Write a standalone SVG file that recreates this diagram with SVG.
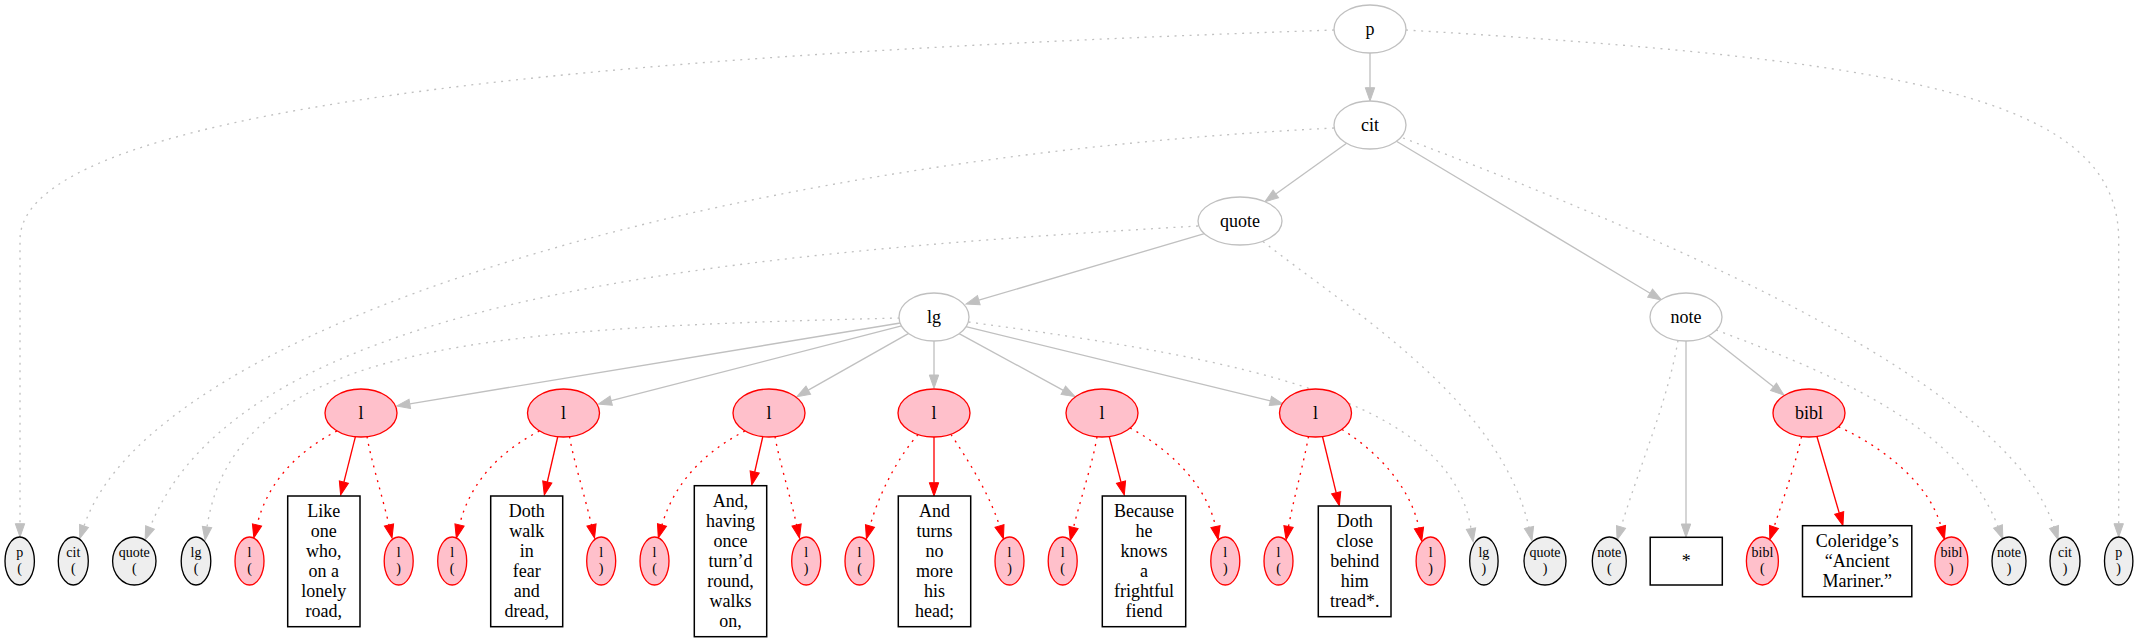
<svg xmlns="http://www.w3.org/2000/svg" width="2139" height="643" viewBox="0 0 2139 643">
<style>
.e{fill:none;stroke:#c0c0c0;stroke-width:1.33}
.r{fill:none;stroke:#ff0000;stroke-width:1.33}
.d{stroke-dasharray:2 5.5}
.t{font-family:"Liberation Serif","Times New Roman",serif;font-size:18px;text-anchor:middle;fill:#000}
.s{font-size:14px}
.top{fill:#ffffff;stroke:#c0c0c0;stroke-width:1.33}
.pk{fill:#ffc0cb;stroke:#ff0000;stroke-width:1.33}
.gr{fill:#eeeeee;stroke:#000000;stroke-width:1.33}
.bx{fill:#ffffff;stroke:#000000;stroke-width:1.5}
</style>
<defs>
<marker id="ag" markerUnits="userSpaceOnUse" markerWidth="14" markerHeight="10" refX="0" refY="5" orient="auto" viewBox="0 0 14 10" overflow="visible"><path d="M0,0.3 L13.3,5 L0,9.7 z" fill="#c0c0c0" stroke="#c0c0c0" stroke-width="1"/></marker>
<marker id="ar" markerUnits="userSpaceOnUse" markerWidth="14" markerHeight="10" refX="0" refY="5" orient="auto" viewBox="0 0 14 10" overflow="visible"><path d="M0,0.3 L13.3,5 L0,9.7 z" fill="#ff0000" stroke="#ff0000" stroke-width="1"/></marker>
</defs>
<rect width="2139" height="643" fill="#ffffff"/>
<g id="edges">
<!-- gray solid -->
<path class="e" marker-end="url(#ag)" d="M1370,53 L1370,87.7"/>
<path class="e" marker-end="url(#ag)" d="M1346.6,143.3 L1275.8,194"/>
<path class="e" marker-end="url(#ag)" d="M1396.4,141.2 L1650.1,293.2"/>
<path class="e" marker-end="url(#ag)" d="M1204.4,233.6 L978.8,300.2"/>
<path class="e" marker-end="url(#ag)" d="M900.3,323 L409.8,403.8"/>
<path class="e" marker-end="url(#ag)" d="M901.5,325.9 L611.2,400.7"/>
<path class="e" marker-end="url(#ag)" d="M908.7,333.4 L808.3,390.2"/>
<path class="e" marker-end="url(#ag)" d="M934,341 L934,375"/>
<path class="e" marker-end="url(#ag)" d="M959.1,333.6 L1063.3,390.3"/>
<path class="e" marker-end="url(#ag)" d="M965.9,326.7 L1270.4,400.9"/>
<path class="e" marker-end="url(#ag)" d="M1686,341 L1686,524"/>
<path class="e" marker-end="url(#ag)" d="M1708.4,335.5 L1773.5,386.8"/>
<!-- gray dotted -->
<path class="e d" marker-end="url(#ag)" d="M1334,30 C700,52 20,95 20,240 L20,523.7"/>
<path class="e d" marker-end="url(#ag)" d="M1406,30 C1900,60 2118.7,95 2118.7,240 L2118.7,523.7"/>
<path class="e d" marker-end="url(#ag)" d="M1334,128 C700,160 150,330 84,526"/>
<path class="e d" marker-end="url(#ag)" d="M1403,138 C1700,250 2010,390 2054,527"/>
<path class="e d" marker-end="url(#ag)" d="M1198,226 C700,255 240,300 150,527.5"/>
<path class="e d" marker-end="url(#ag)" d="M1263,241.5 C1350,310 1500,400 1529,527.5"/>
<path class="e d" marker-end="url(#ag)" d="M899.5,318 C500,328 235,340 207,527"/>
<path class="e d" marker-end="url(#ag)" d="M968.5,322 C1250,360 1450,400 1471,528.7"/>
<path class="e d" marker-end="url(#ag)" d="M1678,340.4 C1668,400 1640,465 1621,527"/>
<path class="e d" marker-end="url(#ag)" d="M1716,330 C1850,380 1960,430 1998,526.5"/>
<!-- red solid -->
<path class="r" marker-end="url(#ar)" d="M355.4,436.6 L343.9,482.1"/>
<path class="r" marker-end="url(#ar)" d="M557.7,437 L547.3,482"/>
<path class="r" marker-end="url(#ar)" d="M762.7,437 L754.7,472"/>
<path class="r" marker-end="url(#ar)" d="M934,437 L934,482.7"/>
<path class="r" marker-end="url(#ar)" d="M1109.3,436.5 L1121,482.1"/>
<path class="r" marker-end="url(#ar)" d="M1322.5,436.5 L1336.2,492.8"/>
<path class="r" marker-end="url(#ar)" d="M1817,436.7 L1839.2,512.9"/>
<!-- red dotted -->
<path class="r d" marker-end="url(#ar)" d="M337,431 C300,450 268,480 257,525"/>
<path class="r d" marker-end="url(#ar)" d="M367,436.5 C371,460 382,495 389,525"/>
<path class="r d" marker-end="url(#ar)" d="M539.5,431 C502.5,450 470.5,480 459.5,525"/>
<path class="r d" marker-end="url(#ar)" d="M569.5,436.5 C573.5,460 584.5,495 591.5,525"/>
<path class="r d" marker-end="url(#ar)" d="M745,431 C708,450 675,480 662,525"/>
<path class="r d" marker-end="url(#ar)" d="M775,436.5 C779,460 790,495 796.6,525"/>
<path class="r d" marker-end="url(#ar)" d="M918,434.5 C900,455 880,490 870,526"/>
<path class="r d" marker-end="url(#ar)" d="M951,434.5 C968,460 990,495 999.5,526"/>
<path class="r d" marker-end="url(#ar)" d="M1097,436.7 C1093,462 1081,497 1073.5,527.5"/>
<path class="r d" marker-end="url(#ar)" d="M1130,428 C1168,448 1207,485 1215.5,526.6"/>
<path class="r d" marker-end="url(#ar)" d="M1308.5,436.4 C1304,462 1294,497 1288.5,526.6"/>
<path class="r d" marker-end="url(#ar)" d="M1342,429.5 C1375,450 1410,485 1419,528"/>
<path class="r d" marker-end="url(#ar)" d="M1801.5,436.7 C1796,462 1784,497 1774,527"/>
<path class="r d" marker-end="url(#ar)" d="M1838.5,426.7 C1885,448 1930,485 1941,526.5"/>
</g>
<g id="n_p"><ellipse class="top" cx="1370" cy="29" rx="36" ry="24"/><text class="t" x="1370" y="35">p</text></g>
<g id="n_cit"><ellipse class="top" cx="1370" cy="125" rx="36" ry="24"/><text class="t" x="1370" y="131">cit</text></g>
<g id="n_quote"><ellipse class="top" cx="1240" cy="221" rx="42" ry="24"/><text class="t" x="1240" y="227">quote</text></g>
<g id="n_lg"><ellipse class="top" cx="934" cy="317" rx="35" ry="24"/><text class="t" x="934" y="323">lg</text></g>
<g id="n_note"><ellipse class="top" cx="1686" cy="317" rx="36" ry="24"/><text class="t" x="1686" y="323">note</text></g>
<g id="n_l1"><ellipse class="pk" cx="361" cy="413" rx="36" ry="24"/><text class="t" x="361" y="419">l</text></g>
<g id="n_l2"><ellipse class="pk" cx="563.5" cy="413" rx="36" ry="24"/><text class="t" x="563.5" y="419">l</text></g>
<g id="n_l3"><ellipse class="pk" cx="769" cy="413" rx="36" ry="24"/><text class="t" x="769" y="419">l</text></g>
<g id="n_l4"><ellipse class="pk" cx="934" cy="413" rx="36" ry="24"/><text class="t" x="934" y="419">l</text></g>
<g id="n_l5"><ellipse class="pk" cx="1102" cy="413" rx="36" ry="24"/><text class="t" x="1102" y="419">l</text></g>
<g id="n_l6"><ellipse class="pk" cx="1315.5" cy="413" rx="36" ry="24"/><text class="t" x="1315.5" y="419">l</text></g>
<g id="n_bibl"><ellipse class="pk" cx="1809" cy="413" rx="36" ry="24"/><text class="t" x="1809" y="419">bibl</text></g>
<g id="n_p_open"><ellipse class="gr" cx="19.7" cy="561" rx="14.7" ry="24"/><text class="t s" x="19.7" y="556.5">p</text><text class="t s" x="19.7" y="573">(</text></g>
<g id="n_cit_open"><ellipse class="gr" cx="73.3" cy="561" rx="15" ry="24"/><text class="t s" x="73.3" y="556.5">cit</text><text class="t s" x="73.3" y="573">(</text></g>
<g id="n_quote_open"><ellipse class="gr" cx="134.3" cy="561" rx="21.7" ry="24"/><text class="t s" x="134.3" y="556.5">quote</text><text class="t s" x="134.3" y="573">(</text></g>
<g id="n_lg_open"><ellipse class="gr" cx="196" cy="561" rx="14.8" ry="24"/><text class="t s" x="196" y="556.5">lg</text><text class="t s" x="196" y="573">(</text></g>
<g id="n_l1_open"><ellipse class="pk" cx="249.5" cy="561" rx="14.5" ry="24"/><text class="t s" x="249.5" y="556.5">l</text><text class="t s" x="249.5" y="573">(</text></g>
<g id="n_t1"><rect class="bx" x="287.7" y="496" width="72.3" height="130.7"/><text class="t" x="323.8"><tspan x="323.8" y="516.8">Like</tspan><tspan x="323.8" y="536.8">one</tspan><tspan x="323.8" y="556.8">who,</tspan><tspan x="323.8" y="576.8">on a</tspan><tspan x="323.8" y="596.8">lonely</tspan><tspan x="323.8" y="616.8">road,</tspan></text></g>
<g id="n_l1_close"><ellipse class="pk" cx="398.7" cy="561" rx="14.5" ry="24"/><text class="t s" x="398.7" y="556.5">l</text><text class="t s" x="398.7" y="573">)</text></g>
<g id="n_l2_open"><ellipse class="pk" cx="452.2" cy="561" rx="14.5" ry="24"/><text class="t s" x="452.2" y="556.5">l</text><text class="t s" x="452.2" y="573">(</text></g>
<g id="n_t2"><rect class="bx" x="490.7" y="496" width="72" height="130.7"/><text class="t" x="526.7"><tspan x="526.7" y="516.8">Doth</tspan><tspan x="526.7" y="536.8">walk</tspan><tspan x="526.7" y="556.8">in</tspan><tspan x="526.7" y="576.8">fear</tspan><tspan x="526.7" y="596.8">and</tspan><tspan x="526.7" y="616.8">dread,</tspan></text></g>
<g id="n_l2_close"><ellipse class="pk" cx="601.2" cy="561" rx="14.5" ry="24"/><text class="t s" x="601.2" y="556.5">l</text><text class="t s" x="601.2" y="573">)</text></g>
<g id="n_l3_open"><ellipse class="pk" cx="654.5" cy="561" rx="14.5" ry="24"/><text class="t s" x="654.5" y="556.5">l</text><text class="t s" x="654.5" y="573">(</text></g>
<g id="n_t3"><rect class="bx" x="694.3" y="485.7" width="72.4" height="151"/><text class="t" x="730.5"><tspan x="730.5" y="506.7">And,</tspan><tspan x="730.5" y="526.7">having</tspan><tspan x="730.5" y="546.7">once</tspan><tspan x="730.5" y="566.7">turn’d</tspan><tspan x="730.5" y="586.7">round,</tspan><tspan x="730.5" y="606.7">walks</tspan><tspan x="730.5" y="626.7">on,</tspan></text></g>
<g id="n_l3_close"><ellipse class="pk" cx="806.2" cy="561" rx="14.5" ry="24"/><text class="t s" x="806.2" y="556.5">l</text><text class="t s" x="806.2" y="573">)</text></g>
<g id="n_l4_open"><ellipse class="pk" cx="859.5" cy="561" rx="14.5" ry="24"/><text class="t s" x="859.5" y="556.5">l</text><text class="t s" x="859.5" y="573">(</text></g>
<g id="n_t4"><rect class="bx" x="898.3" y="496" width="72.4" height="130.7"/><text class="t" x="934.5"><tspan x="934.5" y="516.8">And</tspan><tspan x="934.5" y="536.8">turns</tspan><tspan x="934.5" y="556.8">no</tspan><tspan x="934.5" y="576.8">more</tspan><tspan x="934.5" y="596.8">his</tspan><tspan x="934.5" y="616.8">head;</tspan></text></g>
<g id="n_l4_close"><ellipse class="pk" cx="1009.5" cy="561" rx="14.5" ry="24"/><text class="t s" x="1009.5" y="556.5">l</text><text class="t s" x="1009.5" y="573">)</text></g>
<g id="n_l5_open"><ellipse class="pk" cx="1062.7" cy="561" rx="14.5" ry="24"/><text class="t s" x="1062.7" y="556.5">l</text><text class="t s" x="1062.7" y="573">(</text></g>
<g id="n_t5"><rect class="bx" x="1102.3" y="496" width="83.4" height="130.7"/><text class="t" x="1144"><tspan x="1144" y="516.8">Because</tspan><tspan x="1144" y="536.8">he</tspan><tspan x="1144" y="556.8">knows</tspan><tspan x="1144" y="576.8">a</tspan><tspan x="1144" y="596.8">frightful</tspan><tspan x="1144" y="616.8">fiend</tspan></text></g>
<g id="n_l5_close"><ellipse class="pk" cx="1225.3" cy="561" rx="14.5" ry="24"/><text class="t s" x="1225.3" y="556.5">l</text><text class="t s" x="1225.3" y="573">)</text></g>
<g id="n_l6_open"><ellipse class="pk" cx="1278.5" cy="561" rx="14.5" ry="24"/><text class="t s" x="1278.5" y="556.5">l</text><text class="t s" x="1278.5" y="573">(</text></g>
<g id="n_t6"><rect class="bx" x="1318.3" y="506" width="72.7" height="110.7"/><text class="t" x="1354.7"><tspan x="1354.7" y="526.8">Doth</tspan><tspan x="1354.7" y="546.8">close</tspan><tspan x="1354.7" y="566.8">behind</tspan><tspan x="1354.7" y="586.8">him</tspan><tspan x="1354.7" y="606.8">tread*.</tspan></text></g>
<g id="n_l6_close"><ellipse class="pk" cx="1430.6" cy="561" rx="14.5" ry="24"/><text class="t s" x="1430.6" y="556.5">l</text><text class="t s" x="1430.6" y="573">)</text></g>
<g id="n_lg_close"><ellipse class="gr" cx="1483.9" cy="561" rx="14.2" ry="24"/><text class="t s" x="1483.9" y="556.5">lg</text><text class="t s" x="1483.9" y="573">)</text></g>
<g id="n_quote_close"><ellipse class="gr" cx="1545" cy="561" rx="21" ry="24"/><text class="t s" x="1545" y="556.5">quote</text><text class="t s" x="1545" y="573">)</text></g>
<g id="n_note_open"><ellipse class="gr" cx="1609.3" cy="561" rx="17" ry="24"/><text class="t s" x="1609.3" y="556.5">note</text><text class="t s" x="1609.3" y="573">(</text></g>
<g id="n_star"><rect class="bx" x="1650.2" y="537.3" width="72.1" height="47.7"/><text class="t" x="1686.2" y="567">*</text></g>
<g id="n_bibl_open"><ellipse class="pk" cx="1762.4" cy="561" rx="16" ry="24"/><text class="t s" x="1762.4" y="556.5">bibl</text><text class="t s" x="1762.4" y="573">(</text></g>
<g id="n_tC"><rect class="bx" x="1802.5" y="525.7" width="109.3" height="71"/><text class="t" x="1857.2"><tspan x="1857.2" y="546.7">Coleridge’s</tspan><tspan x="1857.2" y="566.7">“Ancient</tspan><tspan x="1857.2" y="586.7">Mariner.”</tspan></text></g>
<g id="n_bibl_close"><ellipse class="pk" cx="1951.4" cy="561" rx="16.5" ry="24"/><text class="t s" x="1951.4" y="556.5">bibl</text><text class="t s" x="1951.4" y="573">)</text></g>
<g id="n_note_close"><ellipse class="gr" cx="2009" cy="561" rx="17" ry="24"/><text class="t s" x="2009" y="556.5">note</text><text class="t s" x="2009" y="573">)</text></g>
<g id="n_cit_close"><ellipse class="gr" cx="2065" cy="561" rx="15" ry="24"/><text class="t s" x="2065" y="556.5">cit</text><text class="t s" x="2065" y="573">)</text></g>
<g id="n_p_close"><ellipse class="gr" cx="2118.7" cy="561" rx="14.2" ry="24"/><text class="t s" x="2118.7" y="556.5">p</text><text class="t s" x="2118.7" y="573">)</text></g>
</svg>
